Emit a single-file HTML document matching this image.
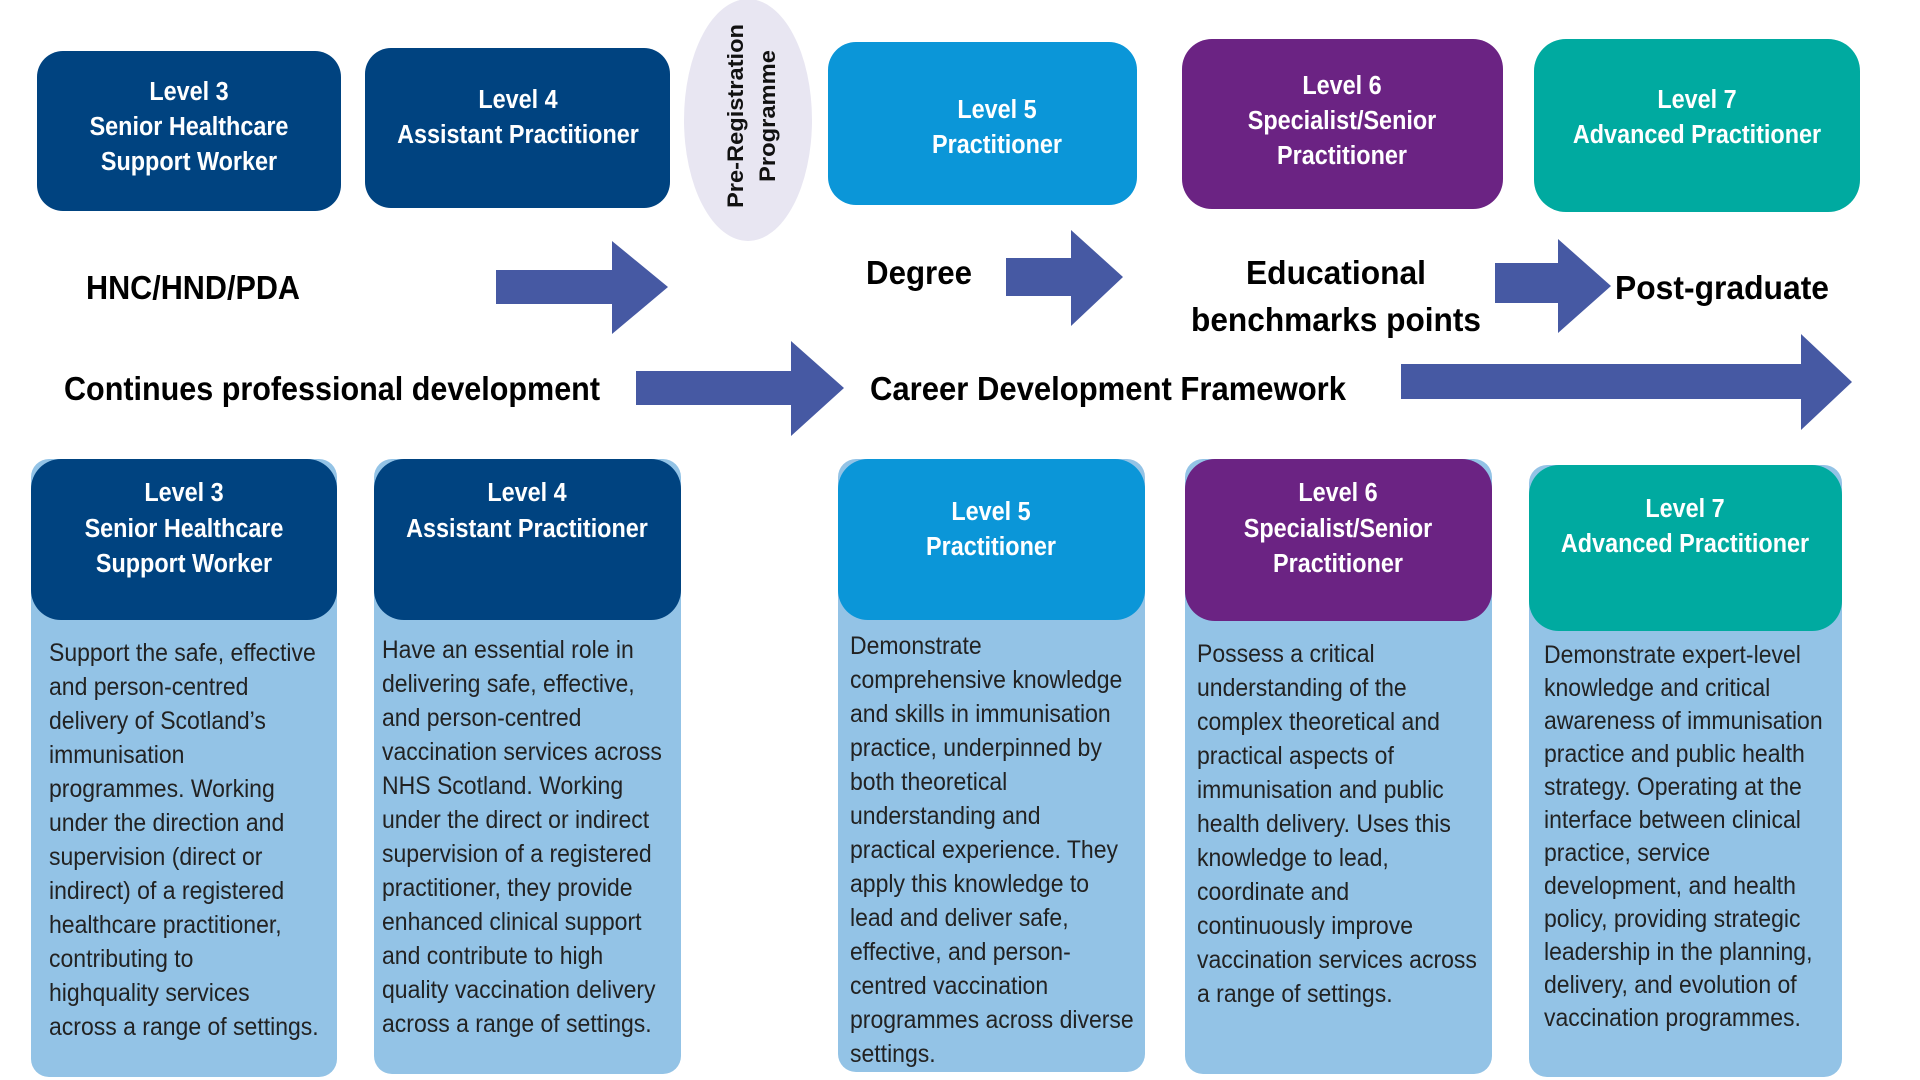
<!DOCTYPE html>
<html><head><meta charset="utf-8"><style>
html,body{margin:0;padding:0;background:#fff;width:1920px;height:1080px;overflow:hidden}
svg{display:block}
text{font-family:"Liberation Sans",sans-serif}
.h{font-weight:bold;fill:#fff;font-size:26px}
.b{font-size:25px;fill:#222}
.t{font-weight:bold;fill:#000;font-size:33px}
</style></head><body>
<svg width="1920" height="1080" viewBox="0 0 1920 1080" xmlns="http://www.w3.org/2000/svg">
<!-- top boxes -->
<rect x="37" y="51" width="304" height="160" rx="26" fill="#004380"/>
<rect x="365" y="48" width="305" height="160" rx="26" fill="#004380"/>
<ellipse cx="748" cy="120" rx="64" ry="121" fill="#e8e6f2"/>
<rect x="828" y="42" width="309" height="163" rx="28" fill="#0b96d8"/>
<rect x="1182" y="39" width="321" height="170" rx="30" fill="#6b2383"/>
<rect x="1534" y="39" width="326" height="173" rx="32" fill="#00aaa0"/>

<g class="h" text-anchor="middle">
<g transform="translate(189,0) scale(.9,1)"><text x="0" y="100">Level 3</text><text x="0" y="135">Senior Healthcare</text><text x="0" y="170">Support Worker</text></g>
<g transform="translate(518,0) scale(.9,1)"><text x="0" y="108">Level 4</text><text x="0" y="143">Assistant Practitioner</text></g>
<g transform="translate(997,0) scale(.9,1)"><text x="0" y="118">Level 5</text><text x="0" y="153">Practitioner</text></g>
<g transform="translate(1342,0) scale(.9,1)"><text x="0" y="94">Level 6</text><text x="0" y="129">Specialist/Senior</text><text x="0" y="164">Practitioner</text></g>
<g transform="translate(1697,0) scale(.9,1)"><text x="0" y="108">Level 7</text><text x="0" y="143">Advanced Practitioner</text></g>
</g>
<g transform="translate(748,116) rotate(-90)" font-weight="bold" font-size="22" fill="#111" text-anchor="middle">
<text x="0" y="-5" textLength="184" lengthAdjust="spacingAndGlyphs">Pre-Registration</text>
<text x="0" y="27" textLength="132" lengthAdjust="spacingAndGlyphs">Programme</text>
</g>

<!-- arrows -->
<g fill="#4659a3">
<polygon points="496,270 612,270 612,241 668,287 612,334 612,304 496,304"/>
<polygon points="1006,258 1071,258 1071,230 1123,277 1071,326 1071,296 1006,296"/>
<polygon points="1495,263 1558,263 1558,239 1611,286 1558,333 1558,303 1495,303"/>
<polygon points="636,371 791,371 791,341 844,388 791,436 791,405 636,405"/>
<polygon points="1401,364 1801,364 1801,334 1852,382 1801,430 1801,399 1401,399"/>
</g>

<!-- titles -->
<text class="t" x="86" y="299" textLength="214" lengthAdjust="spacingAndGlyphs">HNC/HND/PDA</text>
<text class="t" x="866" y="284" textLength="106" lengthAdjust="spacingAndGlyphs">Degree</text>
<text class="t" x="1336" y="284" text-anchor="middle" textLength="180" lengthAdjust="spacingAndGlyphs">Educational</text>
<text class="t" x="1336" y="331" text-anchor="middle" textLength="290" lengthAdjust="spacingAndGlyphs">benchmarks points</text>
<text class="t" x="1615" y="299" textLength="214" lengthAdjust="spacingAndGlyphs">Post-graduate</text>
<text class="t" x="64" y="400" textLength="536" lengthAdjust="spacingAndGlyphs">Continues professional development</text>
<text class="t" x="870" y="400" textLength="476" lengthAdjust="spacingAndGlyphs">Career Development Framework</text>

<!-- bottom cards -->
<rect x="31" y="459" width="306" height="618" rx="18" fill="#93c3e6"/>
<rect x="31" y="459" width="306" height="161" rx="30" fill="#004380"/>
<rect x="374" y="459" width="307" height="615" rx="18" fill="#93c3e6"/>
<rect x="374" y="459" width="307" height="161" rx="30" fill="#004380"/>
<rect x="838" y="459" width="307" height="613" rx="18" fill="#93c3e6"/>
<rect x="838" y="459" width="307" height="161" rx="30" fill="#0b96d8"/>
<rect x="1185" y="459" width="307" height="615" rx="18" fill="#93c3e6"/>
<rect x="1185" y="459" width="307" height="162" rx="30" fill="#6b2383"/>
<rect x="1529" y="465" width="313" height="612" rx="18" fill="#93c3e6"/>
<rect x="1529" y="465" width="313" height="166" rx="30" fill="#00aaa0"/>

<g class="h" text-anchor="middle">
<g transform="translate(184,0) scale(.9,1)"><text x="0" y="501">Level 3</text><text x="0" y="537">Senior Healthcare</text><text x="0" y="572">Support Worker</text></g>
<g transform="translate(527,0) scale(.9,1)"><text x="0" y="501">Level 4</text><text x="0" y="537">Assistant Practitioner</text></g>
<g transform="translate(991,0) scale(.9,1)"><text x="0" y="520">Level 5</text><text x="0" y="555">Practitioner</text></g>
<g transform="translate(1338,0) scale(.9,1)"><text x="0" y="501">Level 6</text><text x="0" y="537">Specialist/Senior</text><text x="0" y="572">Practitioner</text></g>
<g transform="translate(1685,0) scale(.9,1)"><text x="0" y="517">Level 7</text><text x="0" y="552">Advanced Practitioner</text></g>
</g>

<g class="b">
<g transform="translate(49,661) scale(.92,1)">
<text x="0" y="0">Support the safe, effective</text><text x="0" y="34">and person-centred</text><text x="0" y="68">delivery of Scotland’s</text><text x="0" y="102">immunisation</text><text x="0" y="136">programmes. Working</text><text x="0" y="170">under the direction and</text><text x="0" y="204">supervision (direct or</text><text x="0" y="238">indirect) of a registered</text><text x="0" y="272">healthcare practitioner,</text><text x="0" y="306">contributing to</text><text x="0" y="340">highquality services</text><text x="0" y="374">across a range of settings.</text>
</g>
<g transform="translate(382,658) scale(.92,1)">
<text x="0" y="0">Have an essential role in</text><text x="0" y="34">delivering safe, effective,</text><text x="0" y="68">and person-centred</text><text x="0" y="102">vaccination services across</text><text x="0" y="136">NHS Scotland. Working</text><text x="0" y="170">under the direct or indirect</text><text x="0" y="204">supervision of a registered</text><text x="0" y="238">practitioner, they provide</text><text x="0" y="272">enhanced clinical support</text><text x="0" y="306">and contribute to high</text><text x="0" y="340">quality vaccination delivery</text><text x="0" y="374">across a range of settings.</text>
</g>
<g transform="translate(850,654) scale(.92,1)">
<text x="0" y="0">Demonstrate</text><text x="0" y="34">comprehensive knowledge</text><text x="0" y="68">and skills in immunisation</text><text x="0" y="102">practice, underpinned by</text><text x="0" y="136">both theoretical</text><text x="0" y="170">understanding and</text><text x="0" y="204">practical experience. They</text><text x="0" y="238">apply this knowledge to</text><text x="0" y="272">lead and deliver safe,</text><text x="0" y="306">effective, and person-</text><text x="0" y="340">centred vaccination</text><text x="0" y="374">programmes across diverse</text><text x="0" y="408">settings.</text>
</g>
<g transform="translate(1197,662) scale(.92,1)">
<text x="0" y="0">Possess a critical</text><text x="0" y="34">understanding of the</text><text x="0" y="68">complex theoretical and</text><text x="0" y="102">practical aspects of</text><text x="0" y="136">immunisation and public</text><text x="0" y="170">health delivery. Uses this</text><text x="0" y="204">knowledge to lead,</text><text x="0" y="238">coordinate and</text><text x="0" y="272">continuously improve</text><text x="0" y="306">vaccination services across</text><text x="0" y="340">a range of settings.</text>
</g>
<g transform="translate(1544,663) scale(.92,1)">
<text x="0" y="0">Demonstrate expert-level</text><text x="0" y="33">knowledge and critical</text><text x="0" y="66">awareness of immunisation</text><text x="0" y="99">practice and public health</text><text x="0" y="132">strategy. Operating at the</text><text x="0" y="165">interface between clinical</text><text x="0" y="198">practice, service</text><text x="0" y="231">development, and health</text><text x="0" y="264">policy, providing strategic</text><text x="0" y="297">leadership in the planning,</text><text x="0" y="330">delivery, and evolution of</text><text x="0" y="363">vaccination programmes.</text>
</g>
</g>
</svg>
</body></html>
